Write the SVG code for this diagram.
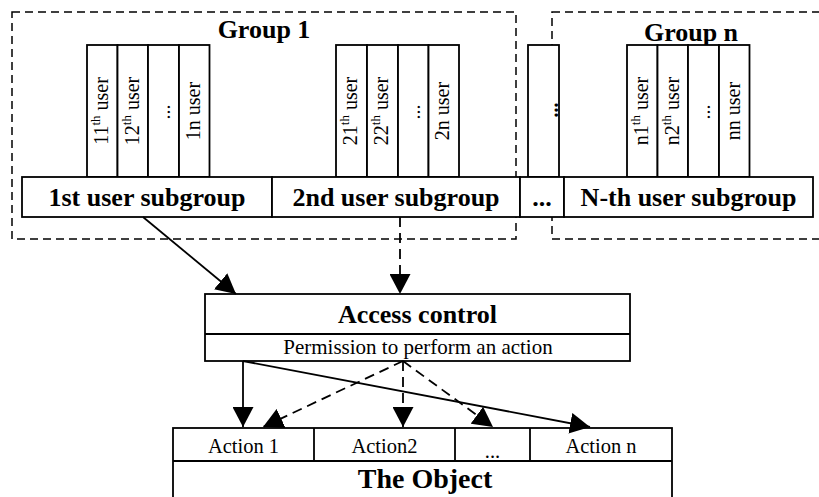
<svg xmlns="http://www.w3.org/2000/svg" width="819" height="497" viewBox="0 0 819 497">
<defs>
<style>
.box{fill:#fff;stroke:#000;stroke-width:1.8}
.grp{fill:none;stroke:#000;stroke-width:1.5;stroke-dasharray:8 5}
.t{font-family:"Liberation Serif","Times New Roman",serif;fill:#000}
.b{font-weight:bold}
.ln{fill:none;stroke:#000;stroke-width:1.8}
.dash{stroke-dasharray:10 6}
</style>
<marker id="ah" markerUnits="userSpaceOnUse" markerWidth="20" markerHeight="21" viewBox="0 0 20 21" refX="20" refY="10.5" orient="auto">
<path d="M0,0 L20,10.5 L0,21 Z" fill="#000"/>
</marker>
</defs>
<rect width="819" height="497" fill="#fff"/>

<g id="group1">
<rect class="grp" x="12" y="12" width="504" height="227"/>
<text class="t b" x="264" y="38" font-size="26" text-anchor="middle">Group 1</text>
</g>
<g id="groupn">
<rect class="grp" x="552" y="12" width="300" height="227"/>
<text class="t b" x="691" y="41" font-size="26" text-anchor="middle">Group n</text>
</g>

<g id="users1">
<rect class="box" x="87" y="45" width="30.5" height="132"/>
<rect class="box" x="117.5" y="45" width="30.5" height="132"/>
<rect class="box" x="148" y="45" width="31" height="132"/>
<rect class="box" x="179" y="45" width="30.5" height="132"/>
<text class="t" font-size="20" text-anchor="middle" x="108" y="111" transform="rotate(-90 108 111)">11<tspan font-size="13" dy="-8">th</tspan><tspan dy="8"> user</tspan></text>
<text class="t" font-size="20" text-anchor="middle" x="138.5" y="111" transform="rotate(-90 138.5 111)">12<tspan font-size="13" dy="-8">th</tspan><tspan dy="8"> user</tspan></text>
<text class="t" font-size="20" text-anchor="middle" x="169.5" y="112" transform="rotate(-90 169.5 112)">...</text>
<text class="t" font-size="20" text-anchor="middle" x="199.5" y="111" transform="rotate(-90 199.5 111)">1n user</text>
</g>

<g id="users2">
<rect class="box" x="336" y="45" width="31" height="132"/>
<rect class="box" x="367" y="45" width="31" height="132"/>
<rect class="box" x="398" y="45" width="30.5" height="132"/>
<rect class="box" x="428.5" y="45" width="30.5" height="132"/>
<text class="t" font-size="20" text-anchor="middle" x="357" y="111" transform="rotate(-90 357 111)">21<tspan font-size="13" dy="-8">th</tspan><tspan dy="8"> user</tspan></text>
<text class="t" font-size="20" text-anchor="middle" x="388" y="111" transform="rotate(-90 388 111)">22<tspan font-size="13" dy="-8">th</tspan><tspan dy="8"> user</tspan></text>
<text class="t" font-size="20" text-anchor="middle" x="419.5" y="112" transform="rotate(-90 419.5 112)">...</text>
<text class="t" font-size="20" text-anchor="middle" x="449" y="111" transform="rotate(-90 449 111)">2n user</text>
</g>

<g id="usersmid">
<rect class="box" x="528" y="45" width="31" height="132"/>
<text class="t b" font-size="20" text-anchor="middle" x="558" y="110" transform="rotate(-90 558 110)">...</text>
</g>

<g id="usersn">
<rect class="box" x="627" y="45" width="30.5" height="132"/>
<rect class="box" x="657.5" y="45" width="30.5" height="132"/>
<rect class="box" x="688" y="45" width="31" height="132"/>
<rect class="box" x="719" y="45" width="30.5" height="132"/>
<text class="t" font-size="20" text-anchor="middle" x="648" y="111" transform="rotate(-90 648 111)">n1<tspan font-size="13" dy="-8">th</tspan><tspan dy="8"> user</tspan></text>
<text class="t" font-size="20" text-anchor="middle" x="678.5" y="111" transform="rotate(-90 678.5 111)">n2<tspan font-size="13" dy="-8">th</tspan><tspan dy="8"> user</tspan></text>
<text class="t" font-size="20" text-anchor="middle" x="709.5" y="112" transform="rotate(-90 709.5 112)">...</text>
<text class="t" font-size="20" text-anchor="middle" x="739.5" y="111" transform="rotate(-90 739.5 111)">nn user</text>
</g>

<g id="subgroup1">
<rect class="box" x="22" y="177" width="250" height="40"/>
<text class="t b" x="147" y="206" font-size="26" text-anchor="middle">1st user subgroup</text>
</g>
<g id="subgroup2">
<rect class="box" x="272" y="177" width="248" height="40"/>
<text class="t b" x="396" y="206" font-size="26" text-anchor="middle">2nd user subgroup</text>
</g>
<g id="subgroupdots">
<rect class="box" x="520" y="177" width="44" height="40"/>
<text class="t b" x="542" y="206" font-size="26" text-anchor="middle">...</text>
</g>
<g id="subgroupn">
<rect class="box" x="564" y="177" width="249" height="40"/>
<text class="t b" x="688.5" y="206" font-size="26" text-anchor="middle">N-th user subgroup</text>
</g>

<g id="access">
<rect class="box" x="205" y="294" width="425" height="67"/>
<line class="ln" x1="205" y1="334" x2="630" y2="334"/>
<text class="t b" x="417.5" y="323" font-size="26" text-anchor="middle">Access control</text>
<text class="t" x="418" y="354" font-size="21" text-anchor="middle">Permission to perform an action</text>
</g>

<g id="object">
<rect class="box" x="173" y="428" width="499" height="100"/>
<line class="ln" x1="173" y1="461" x2="672" y2="461"/>
<line class="ln" x1="314" y1="428" x2="314" y2="461"/>
<line class="ln" x1="455" y1="428" x2="455" y2="461"/>
<line class="ln" x1="530" y1="428" x2="530" y2="461"/>
<text class="t" x="243.5" y="453" font-size="20.5" text-anchor="middle">Action 1</text>
<text class="t" x="384.5" y="453" font-size="20.5" text-anchor="middle">Action2</text>
<text class="t" x="492.5" y="458" font-size="20.5" text-anchor="middle">...</text>
<text class="t" x="601" y="453" font-size="20.5" text-anchor="middle">Action n</text>
<text class="t b" x="425" y="488" font-size="28" text-anchor="middle">The Object</text>
</g>

<g id="connectors">
<line class="ln" x1="143" y1="217" x2="236" y2="294" marker-end="url(#ah)"/>
<line class="ln dash" x1="400" y1="217" x2="400" y2="294" marker-end="url(#ah)"/>
<line class="ln" x1="243" y1="361" x2="243" y2="427" marker-end="url(#ah)"/>
<line class="ln" x1="243" y1="361" x2="590" y2="427" marker-end="url(#ah)"/>
<line class="ln dash" x1="403" y1="361" x2="263" y2="427" marker-end="url(#ah)"/>
<line class="ln dash" x1="403" y1="361" x2="403" y2="427" marker-end="url(#ah)"/>
<line class="ln dash" x1="403" y1="361" x2="493" y2="427" marker-end="url(#ah)"/>
</g>
</svg>
